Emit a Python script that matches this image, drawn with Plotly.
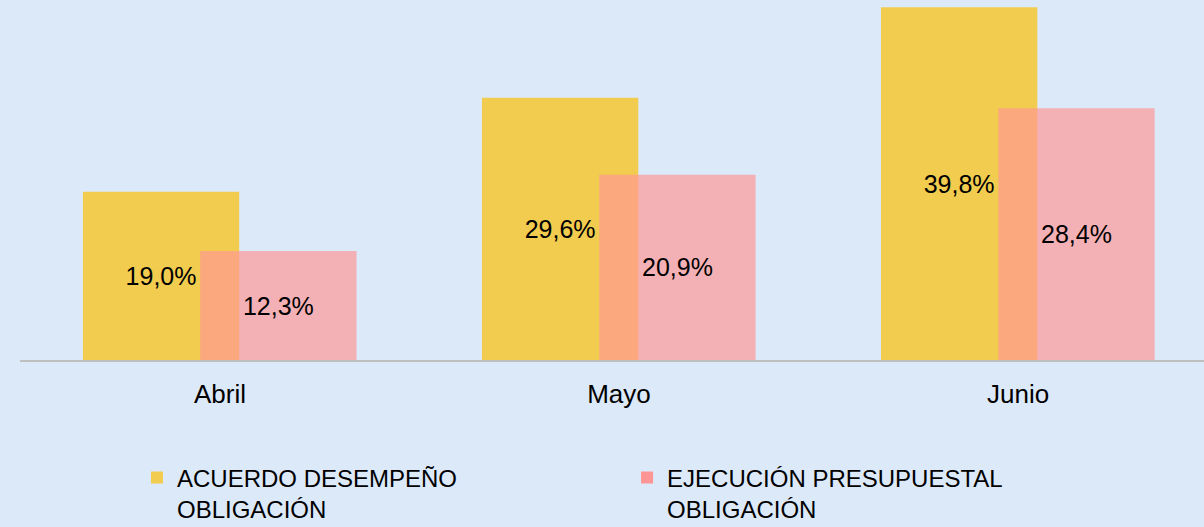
import plotly.graph_objects as go

months = ["Abril", "Mayo", "Junio"]
acuerdo = [19.0, 29.6, 39.8]
ejecucion = [12.3, 20.9, 28.4]
acuerdo_labels = ["19,0%", "29,6%", "39,8%"]
ejecucion_labels = ["12,3%", "20,9%", "28,4%"]
name_acuerdo = "ACUERDO DESEMPEÑO<br>OBLIGACIÓN"
name_ejecucion = "EJECUCIÓN PRESUPUESTAL<br>OBLIGACIÓN"

FONT = "Liberation Sans, Arial, sans-serif"
BG = "#dce9f9"

fig = go.Figure()
fig.add_trace(go.Bar(
    x=months, y=acuerdo, name=name_acuerdo,
    text=acuerdo_labels, textposition="inside", insidetextanchor="middle",
    textangle=0, constraintext="none",
    textfont=dict(family=FONT, size=25, color="black"),
    marker=dict(color="#f2cc4e", line=dict(width=0)),
    offset=-0.3434, width=0.3917, legend="legend",
))
fig.add_trace(go.Bar(
    x=months, y=ejecucion, name=name_ejecucion,
    text=ejecucion_labels, textposition="inside", insidetextanchor="middle",
    textangle=0, constraintext="none",
    textfont=dict(family=FONT, size=25, color="black"),
    marker=dict(color="#ff9695", opacity=0.68, line=dict(width=0)),
    offset=-0.0494, width=0.3917, legend="legend2",
))

fig.update_layout(
    width=1204, height=527,
    margin=dict(l=20, r=0, t=0, b=167, autoexpand=False),
    paper_bgcolor=BG, plot_bgcolor=BG,
    barmode="overlay",
    font=dict(family=FONT, size=25, color="black"),
    xaxis=dict(range=[-0.501, 2.466], showline=True, linecolor="#bfbfbf", linewidth=2,
               showgrid=False, zeroline=False, ticks="", tickfont=dict(size=26),
               ticklabelstandoff=10),
    yaxis=dict(range=[0, 40.63], visible=False, showgrid=False, zeroline=False),
    legend=dict(x=0.0988, y=-0.265, xanchor="left", yanchor="top", valign="top",
                bgcolor="rgba(0,0,0,0)", font=dict(size=24), itemclick=False),
    legend2=dict(x=0.5127, y=-0.265, xanchor="left", yanchor="top", valign="top",
                 bgcolor="rgba(0,0,0,0)", font=dict(size=24), itemclick=False),
    showlegend=True,
)

fig.write_html("out.html", config={"displayModeBar": False},
               post_script="document.body.style.margin='0';")
